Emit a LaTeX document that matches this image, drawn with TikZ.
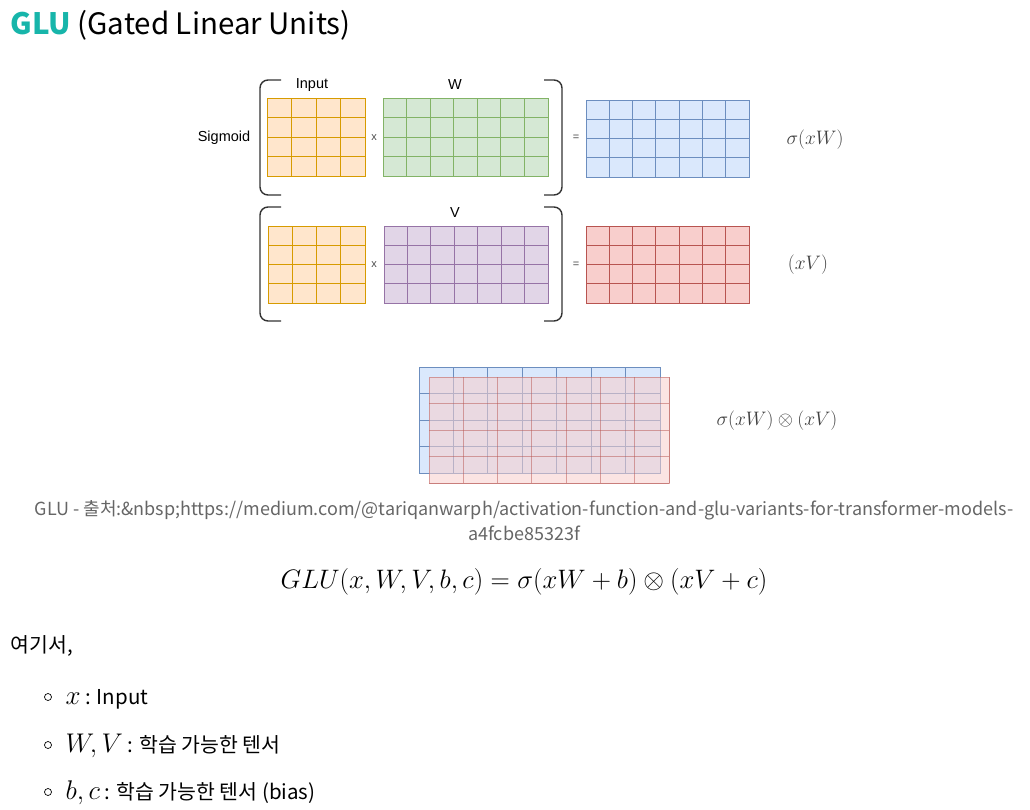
\RequirePackage{fix-cm}
\documentclass[tikz,border=0pt]{standalone}
\usepackage{fontspec}
\setmainfont{Noto Sans CJK KR}
\newfontfamily\drawiofont{Liberation Sans}
\usetikzlibrary{positioning}

\definecolor{inpfill}{HTML}{FFE6CC}
\definecolor{inpline}{HTML}{D79B00}
\definecolor{wfill}{HTML}{D5E8D4}
\definecolor{wline}{HTML}{82B366}
\definecolor{vfill}{HTML}{E1D5E7}
\definecolor{vline}{HTML}{9673A6}
\definecolor{sfill}{HTML}{DAE8FC}
\definecolor{sline}{HTML}{6C8EBF}
\definecolor{rfill}{HTML}{F8CECC}
\definecolor{rline}{HTML}{B85450}
\definecolor{glu}{HTML}{17B5AA}
\definecolor{capgray}{HTML}{666666}

% cells: name, left, top, right, bottom, cols, rows, style
\newcommand{\cellgrid}[8]{
\node[#8, minimum width={#4pt-#2pt}, minimum height={#5pt-#3pt}] (#1) at ({(#2+#4)/2},{(#3+#5)/2}){};
\foreach \i in {1,...,#6}
  \draw[#8, fill=none] ({#2+\i*(#4-#2)/#6},#3) -- ({#2+\i*(#4-#2)/#6},#5);
\foreach \j in {1,...,#7}
  \draw[#8, fill=none] (#2,{#3+\j*(#5-#3)/#7}) -- (#4,{#3+\j*(#5-#3)/#7});
}
\newcommand{\listmath}[1]{{\fontsize{27}{30}\selectfont$#1$}}

\begin{document}
\begin{tikzpicture}[x=1pt, y=-1pt,
  inp/.style={draw=inpline, fill=inpfill, line width=1pt, inner sep=0pt},
  wgt/.style={draw=wline, fill=wfill, line width=1pt, inner sep=0pt},
  vgt/.style={draw=vline, fill=vfill, line width=1pt, inner sep=0pt},
  sgm/.style={draw=sline, fill=sfill, line width=1pt, inner sep=0pt},
  lnr/.style={draw=rline, fill=rfill, line width=1pt, inner sep=0pt},
  ovl/.style={draw=rline, fill=rfill, line width=1pt, inner sep=0pt, fill opacity=0.55, draw opacity=0.5},
  brk/.style={draw=black!80, line width=1.4pt, rounded corners=8pt},
  lbl/.style={font=\drawiofont\fontsize{14.5}{17}\selectfont},
  op/.style={font=\drawiofont\fontsize{11}{13}\selectfont, text=black!70},
  res/.style={font=\fontsize{19.5}{23}\selectfont, text=black!75},
  item/.style={anchor=base west, font=\fontsize{20.5}{24}\selectfont},
  bull/.style={circle, draw, line width=0.7pt, minimum size=7pt, inner sep=0pt}]
\useasboundingbox (0,0) rectangle (1030,809);
\fill[white] (0,0) rectangle (1030,809);

\node[anchor=base west, font=\fontsize{29.5}{35}\selectfont] (title) at (7,34) {\textcolor{glu}{\bfseries GLU} (Gated Linear Units)};

% sigmoid branch
\cellgrid{in1}{267.5}{98.5}{365}{176}{4}{4}{inp}
\cellgrid{wmat}{383}{98.5}{548}{176}{7}{4}{wgt}
\cellgrid{sig}{586}{100}{749}{177}{7}{4}{sgm}
\draw[brk] (281,80) -- (260,80) -- (260,195) -- (281,195);
\draw[brk] (544,80) -- (562,80) -- (562,195) -- (544,195);
\node[lbl] (sgmd) at (224,138) {Sigmoid};
\node[lbl] (inlbl) at (312,85) {Input};
\node[lbl] (wlbl) at (455,85) {W};
\node[op] (mul1) at (374,138) {x};
\node[op] (eq1) at (576,138) {=};
\node[res] (sigxw) at (815,140) {$\sigma(xW)$};

% linear branch
\cellgrid{in2}{268}{226}{365}{303}{4}{4}{inp}
\cellgrid{vmat}{384}{226}{548}{303}{7}{4}{vgt}
\cellgrid{lin}{586}{226}{749}{303}{7}{4}{lnr}
\draw[brk] (281,207) -- (260,207) -- (260,321) -- (281,321);
\draw[brk] (544,207) -- (562,207) -- (562,321) -- (544,321);
\node[lbl] (vlbl) at (455,213) {V};
\node[op] (mul2) at (374,265) {x};
\node[op] (eq2) at (576,265) {=};
\node[res] (xv) at (808,265) {$(xV)$};

% product
\cellgrid{sigb}{419}{367}{660}{473}{7}{4}{sgm}
\cellgrid{linb}{429}{377}{669}{483}{7}{4}{ovl}
\node[res] (prod) at (777,421) {$\sigma(xW)\otimes(xV)$};

\node[font=\fontsize{18}{22}\selectfont, text=capgray] (cap1) at (524,510) {GLU - 출처:\&nbsp;https://medium.com/@tariqanwarph/activation-function-and-glu-variants-for-transformer-models-};
\node[font=\fontsize{18}{22}\selectfont, text=capgray] (cap2) at (524,533) {a4fcbe85323f};
\node[font=\fontsize{26.7}{30}\selectfont] (glueq) at (524,582) {$GLU(x,W,V,b,c)=\sigma(xW+b)\otimes(xV+c)$};

\node[item] (here) at (7,652) {여기서,};
\node[bull] (b1) at (48,697) {};
\node[bull] (b2) at (48,745) {};
\node[bull] (b3) at (48,792) {};
\node[item] (t1) at (62,704) {\listmath{x} : Input};
\node[item] (t2) at (62,752) {\listmath{W,V} : 학습 가능한 텐서};
\node[item] (t3) at (62,799) {\listmath{b,c} : 학습 가능한 텐서 (bias)};
\end{tikzpicture}
\end{document}
